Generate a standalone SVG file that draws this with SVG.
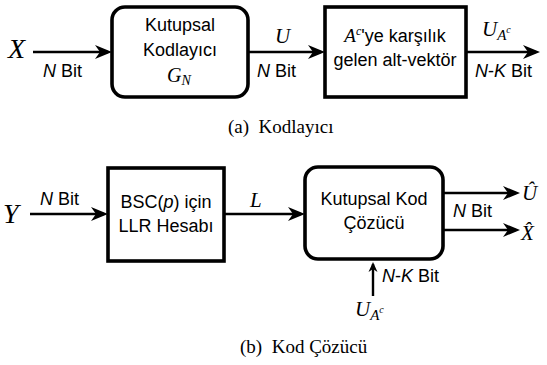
<svg xmlns="http://www.w3.org/2000/svg" width="547" height="365" viewBox="0 0 547 365">
<style>
.box{fill:#fff;stroke:#000;stroke-width:3.6}
.ln{stroke:#000;stroke-width:2.4;fill:none}
.t{font-family:"Liberation Sans",Arial,sans-serif;font-size:18px;fill:#000}
.c{text-anchor:middle}
.m{font-family:"Liberation Serif","Times New Roman",serif;font-style:italic;fill:#000}
.cap{font-family:"Liberation Serif","Times New Roman",serif;font-size:19px;fill:#000;white-space:pre}
</style>
<defs>
<marker id="ah" viewBox="-20 -8 22 16" refX="-4" refY="0" markerWidth="22" markerHeight="16" markerUnits="userSpaceOnUse" orient="auto">
<path d="M0,0 L-17,-7 L-12,0 L-17,7 z" fill="#000"/>
</marker>
<marker id="ahs" viewBox="-12 -6 14 12" refX="-2" refY="0" markerWidth="14" markerHeight="12" markerUnits="userSpaceOnUse" orient="auto">
<path d="M0,0 L-10,-4.5 L-7,0 L-10,4.5 z" fill="#000"/>
</marker>
</defs>
<g id="connectors">
<line class="ln" x1="33" y1="52" x2="108" y2="52" marker-end="url(#ah)"/>
<line class="ln" x1="248" y1="52" x2="321" y2="52" marker-end="url(#ah)"/>
<line class="ln" x1="466" y1="52" x2="536" y2="52" marker-end="url(#ah)"/>
<line class="ln" x1="30" y1="214" x2="104" y2="214" marker-end="url(#ah)"/>
<line class="ln" x1="224" y1="214" x2="301" y2="214" marker-end="url(#ah)"/>
<line class="ln" x1="443" y1="193" x2="516" y2="193" marker-end="url(#ah)"/>
<line class="ln" x1="443" y1="230" x2="516" y2="230" marker-end="url(#ah)"/>
<line class="ln" x1="373" y1="296" x2="373" y2="264" marker-end="url(#ahs)"/>
</g>
<g id="labels">
<text class="m" x="8" y="58" font-size="28">X</text>
<text class="t" x="43" y="77"><tspan font-style="italic">N</tspan> Bit</text>
<text class="m" x="275" y="43" font-size="21">U</text>
<text class="t" x="257" y="77"><tspan font-style="italic">N</tspan> Bit</text>
<text class="m" x="482" y="36" font-size="21">U<tspan font-size="15" dy="4">A</tspan><tspan font-size="10" dy="-7">c</tspan></text>
<text class="t" x="475" y="77"><tspan font-style="italic">N</tspan>-<tspan font-style="italic">K</tspan> Bit</text>
<text class="m" x="3" y="223" font-size="28">Y</text>
<text class="t" x="40" y="205"><tspan font-style="italic">N</tspan> Bit</text>
<text class="m" x="250" y="207" font-size="21">L</text>
<text class="m" x="522" y="200" font-size="21">Û</text>
<text class="m" x="521" y="240" font-size="21">X̂</text>
<text class="t" x="453" y="217"><tspan font-style="italic">N</tspan> Bit</text>
<text class="t" x="382" y="282"><tspan font-style="italic">N</tspan>-<tspan font-style="italic">K</tspan> Bit</text>
<text class="m" x="355" y="316" font-size="21">U<tspan font-size="15" dy="4">A</tspan><tspan font-size="10" dy="-7">c</tspan></text>
</g>
<g id="encoder">
<rect class="box" x="112" y="7" width="136" height="90" rx="13"/>
<text class="t c" x="180" y="31">Kutupsal</text>
<text class="t c" x="180" y="56">Kodlayıcı</text>
<text class="m" x="167" y="82" font-size="20">G<tspan font-size="14" dy="3">N</tspan></text>
</g>
<g id="subvector">
<rect class="box" x="325" y="7" width="141" height="90"/>
<text class="t c" x="395" y="42"><tspan class="m" font-size="19">A</tspan><tspan class="m" font-size="12" dy="-7">c</tspan><tspan dy="7">'ye karşılık</tspan></text>
<text class="t c" x="395" y="66">gelen alt-vektör</text>
</g>
<g id="llr">
<rect class="box" x="108" y="168" width="116" height="93"/>
<text class="t c" x="166" y="208">BSC(<tspan font-style="italic">p</tspan>) için</text>
<text class="t c" x="166" y="232">LLR Hesabı</text>
</g>
<g id="decoder">
<rect class="box" x="305" y="167" width="138" height="92" rx="13"/>
<text class="t c" x="374" y="205">Kutupsal Kod</text>
<text class="t c" x="374" y="229">Çözücü</text>
</g>
<g id="captions">
<text class="cap" x="228" y="133">(a)  Kodlayıcı</text>
<text class="cap" x="240" y="353">(b)  Kod Çözücü</text>
</g>
</svg>
